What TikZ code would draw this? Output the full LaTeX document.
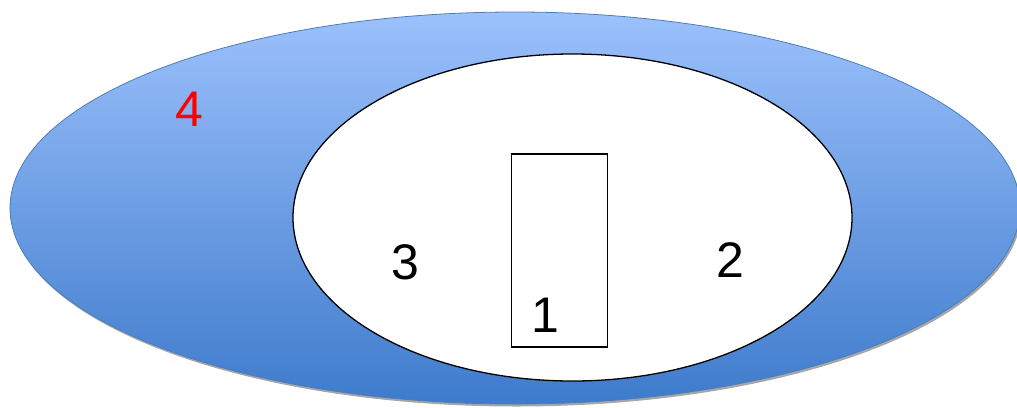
\documentclass[tikz,border=0pt]{standalone}
\usepackage{fontspec}
\setmainfont{Liberation Sans}
\usetikzlibrary{shapes.geometric}
\definecolor{ringtop}{RGB}{156,193,252}
\definecolor{ringbot}{RGB}{62,123,204}
\definecolor{ringline}{RGB}{74,126,187}
\tikzset{
  digit/.style={font=\fontsize{50}{50}\selectfont, inner sep=0pt},
  region/.style={ellipse, inner sep=0pt},
}
\begin{document}
\begin{tikzpicture}[x=1pt,y=-1pt]
  \useasboundingbox (0,0) rectangle (1017,407);
  \clip (0,0) rectangle (1017,407);
  % soft shadow under the outer ring
  \fill[black!35] (516.5,210.5) ellipse [x radius=505, y radius=196];
  % outer region
  \node[region, minimum width=1010pt, minimum height=392pt,
        top color=ringtop, bottom color=ringbot, draw=ringline, line width=0.8pt]
        (outer) at (515,208) {};
  % inner region
  \node[region, minimum width=559pt, minimum height=327pt,
        fill=white, draw=black, line width=1.3pt]
        (inner) at (572.5,217.5) {};
  % central box
  \node[draw=black, line width=1.1pt, fill=white, minimum width=96pt,
        minimum height=193pt, inner sep=0pt] (box) at (559.5,250.5) {};
  % labels
  \node[digit, text=red] (l4) at (189,109) {4};
  \node[digit] (l3) at (405,262) {3};
  \node[digit] (l2) at (730,260) {2};
  \node[digit] (l1) at (545,315) {1};
\end{tikzpicture}
\end{document}
